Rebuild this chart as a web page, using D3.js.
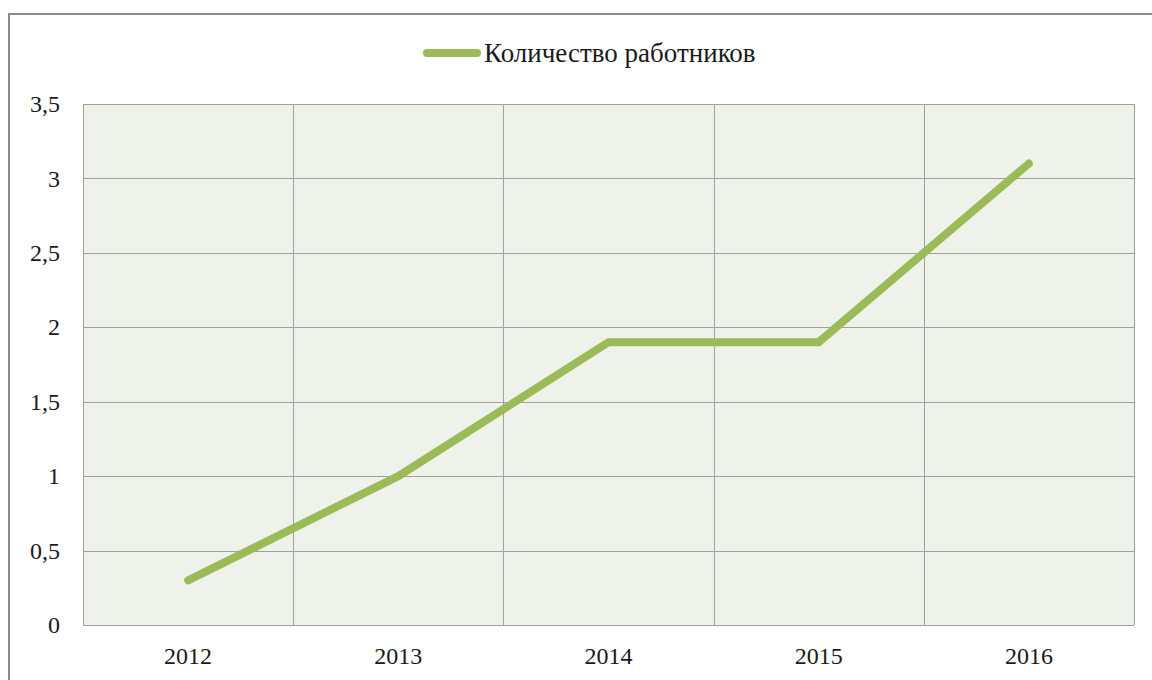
<!DOCTYPE html>
<html lang="ru">
<head>
<meta charset="utf-8">
<title>Количество работников</title>
<script src="https://cdn.jsdelivr.net/npm/d3@7"></script>
<style>
body { margin: 0; background: #fff; }
svg { display: block; }
.grid line { stroke: #a0a0a0; stroke-width: 1; }
.axis text { font-size: 24px; fill: #1a1a1a; }
.axis path, .axis line { display: none; }
</style>
</head>
<body>
<svg id="chart" width="1152" height="680"></svg>
<script>
var years = ["2012", "2013", "2014", "2015", "2016"];
var workers = [0.3, 1.0, 1.9, 1.9, 3.1];
var yTicks = [0, 0.5, 1, 1.5, 2, 2.5, 3, 3.5];
var seriesName = "Количество работников";
var serif = "Liberation Serif, Times New Roman, serif";

var svg = d3.select("#chart"),
    margin = {top: 104, right: 18, bottom: 55, left: 83},
    width = +svg.attr("width") - margin.left - margin.right,
    height = +svg.attr("height") - margin.top - margin.bottom;

// outer chart frame (runs off the right and bottom)
svg.append("rect")
    .attr("x", 9).attr("y", 14)
    .attr("width", 1160).attr("height", 700)
    .attr("fill", "#fff")
    .attr("stroke", "#8c8c8c")
    .attr("stroke-width", 2);

var x = d3.scaleBand().domain(years).range([0, width]),
    y = d3.scaleLinear().domain([0, 3.5]).range([height, 0]);

var g = svg.append("g")
    .attr("transform", "translate(" + margin.left + "," + margin.top + ")");

g.append("rect")
    .attr("width", width).attr("height", height)
    .attr("fill", "#eff2ea");

var grid = g.append("g").attr("class", "grid");
grid.selectAll(".h").data(yTicks).enter().append("line")
    .attr("x1", 0).attr("x2", width)
    .attr("y1", function(d) { return Math.round(y(d)) + 0.5; })
    .attr("y2", function(d) { return Math.round(y(d)) + 0.5; });
grid.selectAll(".v").data(years.concat(["end"])).enter().append("line")
    .attr("x1", function(d, i) { return Math.round(i * x.step()) + 0.5; })
    .attr("x2", function(d, i) { return Math.round(i * x.step()) + 0.5; })
    .attr("y1", 0).attr("y2", height);

g.append("g")
    .attr("class", "axis")
    .attr("transform", "translate(0," + height + ")")
    .call(d3.axisBottom(x).tickSize(0).tickPadding(22))
    .attr("font-family", serif);

var fmt = function(d) { return String(d).replace(".", ","); };
g.append("g")
    .attr("class", "axis")
    .call(d3.axisLeft(y).tickValues(yTicks).tickFormat(fmt).tickSize(0).tickPadding(23))
    .attr("font-family", serif);

var line = d3.line()
    .x(function(d, i) { return x(years[i]) + x.bandwidth() / 2; })
    .y(function(d) { return y(d); });

g.append("path")
    .datum(workers)
    .attr("d", line)
    .attr("fill", "none")
    .attr("stroke", "#9bbb59")
    .attr("stroke-width", 8)
    .attr("stroke-linecap", "round")
    .attr("stroke-linejoin", "miter");

// legend
var lg = svg.append("g").attr("transform", "translate(427,53)");
lg.append("line")
    .attr("x1", 0).attr("x2", 50)
    .attr("stroke", "#9bbb59").attr("stroke-width", 8)
    .attr("stroke-linecap", "round");
lg.append("text")
    .attr("x", 57).attr("y", 9)
    .attr("font-family", serif)
    .attr("font-size", "27px")
    .attr("fill", "#1a1a1a")
    .text(seriesName);
</script>
</body>
</html>
